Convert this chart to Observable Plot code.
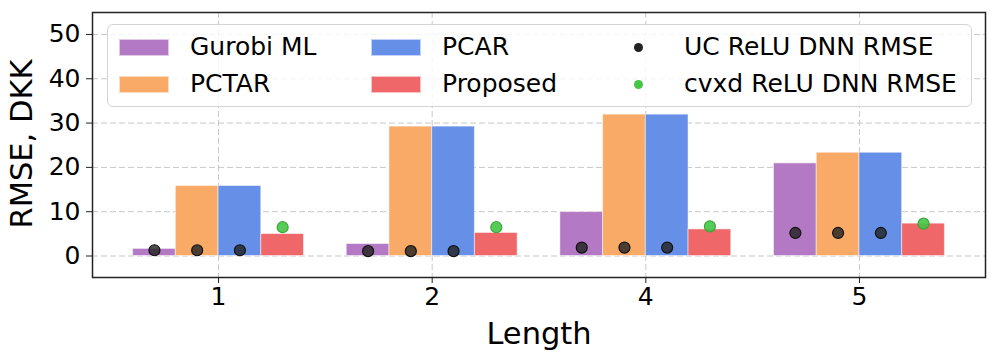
<!DOCTYPE html>
<html>
<head>
<meta charset="utf-8">
<script src="https://cdn.jsdelivr.net/npm/d3@7"></script>
<script src="https://cdn.jsdelivr.net/npm/@observablehq/plot@0.6"></script>
<style>
  html, body { margin: 0; padding: 0; background: #fff; }
  #wrap { position: relative; width: 997px; height: 363px; font-family: "DejaVu Sans", sans-serif; }
  #legend { position: absolute; left: 107px; top: 24px; width: 865px; height: 83px;
    border: 1px solid #d4d4d4; border-radius: 6px; background: rgba(255,255,255,0.8); box-sizing: border-box; }
  .item { position: absolute; font-size: 25px; color: #000; line-height: 1; white-space: nowrap; }
  .sw { position: absolute; width: 50px; height: 17px; box-sizing: border-box; border: 1px solid rgba(255,255,255,0.6); }
  .dot { position: absolute; width: 9px; height: 9px; border-radius: 50%; }
  #ylabel { position: absolute; left: 22px; top: 144px; font-size: 30.5px; line-height: 1; white-space: nowrap;
    color: #000; transform: translate(-50%, -50%) rotate(-90deg); }
</style>
</head>
<body>
<div id="wrap"><div id="chart"></div><div id="legend"></div><div id="ylabel"></div></div>
<script>
// ---- data ----
const lengths = ["1", "2", "4", "5"];
const series = ["Gurobi ML", "PCTAR", "PCAR", "Proposed"];
const gurobi   = [1.6, 2.7, 9.9, 20.9];
const pctar    = [15.8, 29.2, 31.9, 23.3];
const pcar     = [15.8, 29.2, 31.9, 23.3];
const proposed = [4.95, 5.2, 6.0, 7.3];
const ucRmse   = [1.3, 1.1, 1.9, 5.2];
const cvxdRmse = [6.5, 6.5, 6.7, 7.3];
const pointSeries = ["UC ReLU DNN RMSE", "cvxd ReLU DNN RMSE"];
const yTicks = [0, 10, 20, 30, 40, 50];
const xLabel = "Length";
const yLabel = "RMSE, DKK";

// ---- styles ----
const colors = ["#b379c4", "#f9aa66", "#6690e8", "#ef6769"];
const pointColors = ["#222222", "#45c545"];
const barW = 0.2;

const values = [gurobi, pctar, pcar, proposed];
const bars = lengths.flatMap((L, i) => series.map((s, k) => ({i, k, s, v: values[k][i]})));
const ucPts = lengths.flatMap((L, i) => [0, 1, 2].map(k => ({i, k, v: ucRmse[i]})));
const cvPts = lengths.map((L, i) => ({i, k: 3, v: cvxdRmse[i]}));

const chart = Plot.plot({
  width: 997,
  height: 363,
  marginLeft: 92,
  marginRight: 12,
  marginTop: 12,
  marginBottom: 86,
  style: {fontFamily: "DejaVu Sans, sans-serif", fontSize: "25px", color: "#000", background: "transparent"},
  x: {type: "linear", domain: [-0.59, 3.59]},
  y: {domain: [-4.85, 54.95]},
  marks: [
    Plot.gridX({ticks: [0, 1, 2, 3], stroke: "#c8c8c8", strokeOpacity: 1, strokeDasharray: "6,3", strokeWidth: 1}),
    Plot.gridY({ticks: yTicks, stroke: "#c8c8c8", strokeOpacity: 1, strokeDasharray: "6,3", strokeWidth: 1}),
    Plot.rect(bars, {
      x1: d => d.i + (d.k - 2) * barW,
      x2: d => d.i + (d.k - 1) * barW,
      y1: 0, y2: "v",
      fill: d => colors[d.k],
      stroke: "#ffffff", strokeOpacity: 0.5, strokeWidth: 1
    }),
    Plot.dot(ucPts, {x: d => d.i + (d.k - 1.5) * barW, y: "v", r: 5.5, fill: pointColors[0], fillOpacity: 0.8, stroke: "#111", strokeWidth: 1.2}),
    Plot.dot(cvPts, {x: d => d.i + (d.k - 1.5) * barW, y: "v", r: 5.5, fill: pointColors[1], fillOpacity: 0.9, stroke: "#3aa83a", strokeWidth: 1.2}),
    Plot.frame({stroke: "#222", strokeWidth: 1.5}),
    Plot.axisX({ticks: [0, 1, 2, 3], tickFormat: i => lengths[i], tickSize: 6, tickPadding: 4, fontSize: 25, label: null, stroke: "#222"}),
    Plot.axisY({ticks: yTicks, tickSize: 6, tickPadding: 6, fontSize: 25, label: null, stroke: "#222"}),
    Plot.text([xLabel], {frameAnchor: "bottom", lineAnchor: "middle", dy: 57, fontSize: 30.5, text: d => d, fill: "#000"})
  ]
});
document.getElementById("chart").appendChild(chart);
document.getElementById("ylabel").textContent = yLabel;

// ---- legend (matplotlib-style, 3 columns, column-major) ----
const legend = d3.select("#legend");
const colLeft = [11, 263, 530];
const rowMid = [22, 59];
const entries = [
  ...series.map((s, k) => ({label: s, type: "bar", color: colors[k]})),
  ...pointSeries.map((s, k) => ({label: s, type: "dot", color: pointColors[k]}))
];
entries.forEach((e, n) => {
  const col = Math.floor(n / 2), row = n % 2;
  const x = colLeft[col], y = rowMid[row];
  if (e.type === "bar") {
    legend.append("div").attr("class", "sw")
      .style("left", x + "px").style("top", (y - 8.5) + "px").style("background", e.color);
    legend.append("div").attr("class", "item").text(e.label)
      .style("left", (x + 71) + "px").style("top", (y - 13) + "px");
  } else {
    legend.append("div").attr("class", "dot")
      .style("left", (x - 4.5) + "px").style("top", (y - 4.5) + "px").style("background", e.color);
    legend.append("div").attr("class", "item").text(e.label)
      .style("left", (x + 46) + "px").style("top", (y - 13) + "px");
  }
});
</script>
</body>
</html>
